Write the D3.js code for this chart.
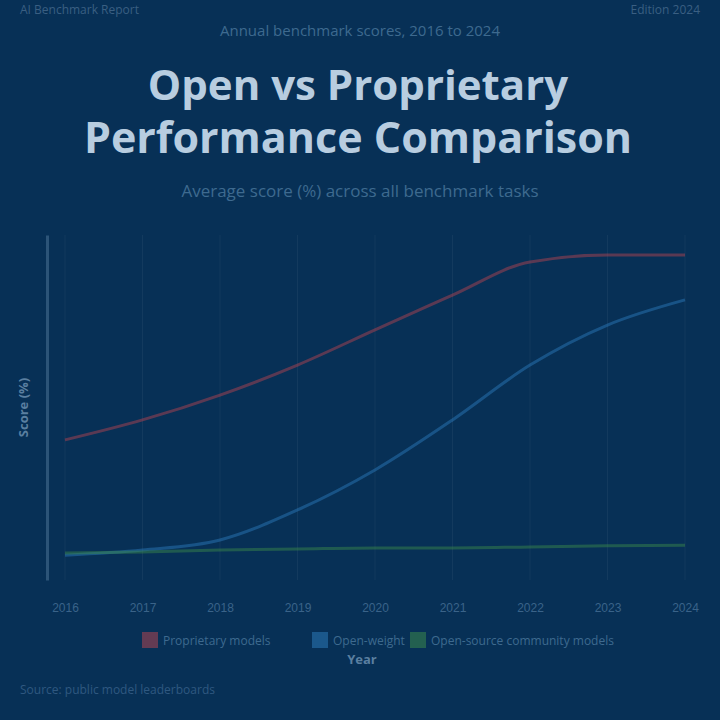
<!DOCTYPE html>
<html><head><meta charset="utf-8">
<script src="https://cdn.jsdelivr.net/npm/d3@7"></script>
<style>body{margin:0;background:#073056;}svg{display:block;font-family:"Open Sans",sans-serif;}</style>
</head><body><svg id="c" width="720" height="720"></svg>
<script>
const years = ["2016","2017","2018","2019","2020","2021","2022","2023","2024"];
const seriesNames = ["Proprietary models","Open-weight","Open-source community models"];
const proprietary = [40.6,46.4,53.6,62.3,72.5,82.6,92.2,94.2,94.2];
const openWeight  = [7.2,8.7,11.6,20.3,31.9,46.4,62.3,73.9,81.2];
const openSource  = [7.8,8.1,8.7,9.0,9.3,9.3,9.6,9.9,10.1];
const colors = ["#c0454f","#2f7fc0","#3f8f4a"];

const svg = d3.select("#c");
const W=720,H=720;
svg.append("rect").attr("width",W).attr("height",H).attr("fill","#073056");

svg.append("text").attr("x",20).attr("y",14).attr("fill","#3a5f82").attr("font-size",12).text("AI Benchmark Report");
svg.append("text").attr("x",700).attr("y",14).attr("text-anchor","end").attr("fill","#3a5f82").attr("font-size",12).text("Edition 2024");
svg.append("text").attr("x",360).attr("y",36).attr("text-anchor","middle").attr("fill","#3e6a8f").attr("font-size",15).text("Annual benchmark scores, 2016 to 2024");
svg.append("text").attr("x",358).attr("y",100).attr("text-anchor","middle").attr("fill","#b8cde0").attr("font-size",42).attr("font-weight","bold").text("Open vs Proprietary");
svg.append("text").attr("x",358).attr("y",153).attr("text-anchor","middle").attr("fill","#b8cde0").attr("font-size",43).attr("font-weight","bold").text("Performance Comparison");
svg.append("text").attr("x",360).attr("y",197).attr("text-anchor","middle").attr("fill","#3e6a8f").attr("font-size",17).text("Average score (%) across all benchmark tasks");

const m={l:65,r:35,t:235,b:140};
const x=d3.scalePoint().domain(years).range([m.l,W-m.r]);
const y=d3.scaleLinear().domain([0,100]).range([H-m.b,m.t]);

svg.append("g").selectAll("line").data(years).join("line")
 .attr("x1",d=>x(d)).attr("x2",d=>x(d)).attr("y1",m.t).attr("y2",H-m.b)
 .attr("stroke","#ffffff").attr("stroke-opacity",0.05);

const yAxis=svg.append("g").attr("transform",`translate(${m.l-18},0)`).call(d3.axisLeft(y).ticks(5).tickSize(0).tickFormat(""));
yAxis.select(".domain").attr("stroke","#2c5478").attr("stroke-width",3);

const xAxis=svg.append("g").attr("transform",`translate(0,${H-m.b+20})`).call(d3.axisBottom(x).tickSize(0));
xAxis.select(".domain").remove();
xAxis.selectAll("text").attr("fill","#3a6389").attr("font-size",12);

svg.append("text").attr("transform",`translate(28,${(m.t+H-m.b)/2}) rotate(-90)`).attr("text-anchor","middle")
 .attr("fill","#5a7fa0").attr("font-size",13).attr("font-weight","bold").text("Score (%)");
svg.append("text").attr("x",362).attr("y",664).attr("text-anchor","middle")
 .attr("fill","#5a7fa0").attr("font-size",13).attr("font-weight","bold").text("Year");

const data=[proprietary,openWeight,openSource];
const line=d3.line().x((d,i)=>x(years[i])).y(d=>y(d)).curve(d3.curveMonotoneX);
data.forEach((s,k)=>{
  svg.append("path").datum(s).attr("d",line).attr("fill","none").attr("stroke",colors[k])
   .attr("stroke-width",3).attr("stroke-opacity",0.45);
});

const leg=svg.append("g").attr("transform","translate(0,640)");
const legX=[150,320,418];
seriesNames.forEach((n,k)=>{
  const gg=leg.append("g").attr("transform",`translate(${legX[k]},0)`);
  gg.append("rect").attr("x",-8).attr("y",-8).attr("width",16).attr("height",16).attr("fill",colors[k]).attr("opacity",0.5);
  gg.append("text").attr("x",13).attr("y",5).attr("fill","#3e6a8f").attr("font-size",12).text(n);
});

svg.append("text").attr("x",20).attr("y",694).attr("fill","#2f5880").attr("font-size",12).text("Source: public model leaderboards");
</script></body></html>
